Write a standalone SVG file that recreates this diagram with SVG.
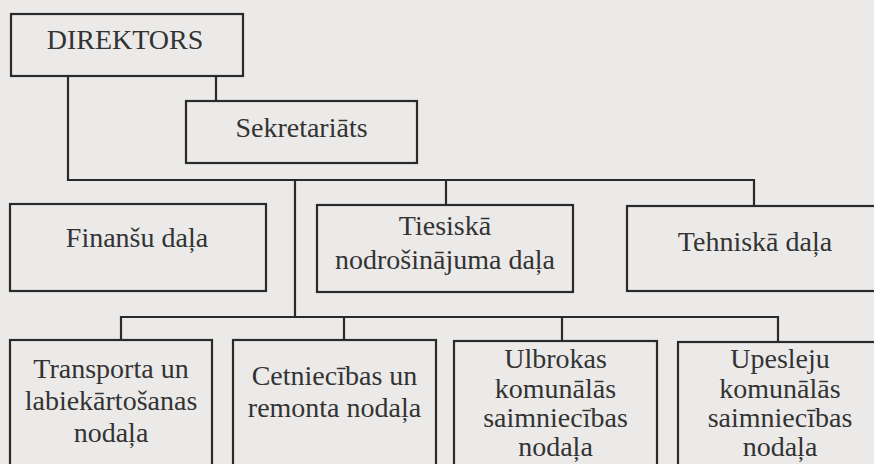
<svg xmlns="http://www.w3.org/2000/svg" width="874" height="464" viewBox="0 0 874 464">
<style>
.box{fill:none;stroke:#2a2a2a;stroke-width:2.2}
.t{font-size:28px;fill:#333;text-anchor:middle}
.c{fill:none;stroke:#2a2a2a;stroke-width:2.2}
</style>
<rect width="874" height="464" fill="#ebeae8"/>
<g id="connectors">
<path class="c" d="M216,76 V101"/>
<path class="c" d="M68,76 V180 H754 V206"/>
<path class="c" d="M446,180 V205"/>
<path class="c" d="M295,180 V317"/>
<path class="c" d="M121,340 V317 H778 V342"/>
<path class="c" d="M344,317 V340"/>
<path class="c" d="M562,317 V341"/>
</g>
<g font-family="'Liberation Serif', 'Times New Roman', Times, 'DejaVu Serif', serif">
<g id="direktors">
<rect class="box" x="11" y="14" width="232" height="62"/>
<text class="t" x="125" y="49">DIREKTORS</text>
</g>
<g id="sekretariats">
<rect class="box" x="186" y="101" width="231" height="62"/>
<text class="t" x="301.5" y="137">Sekretariāts</text>
</g>
<g id="finansu">
<rect class="box" x="10" y="204" width="256" height="87"/>
<text class="t" x="137" y="247">Finanšu daļa</text>
</g>
<g id="tiesiska">
<rect class="box" x="317" y="205" width="256" height="87"/>
<text class="t" x="445" y="235">Tiesiskā</text>
<text class="t" x="445" y="269">nodrošinājuma daļa</text>
</g>
<g id="tehniska">
<rect class="box" x="627" y="206" width="256" height="85"/>
<text class="t" x="755" y="251">Tehniskā daļa</text>
</g>
<g id="transporta">
<rect class="box" x="10" y="340" width="202" height="140"/>
<text class="t" x="111" y="378">Transporta un</text>
<text class="t" x="111" y="410">labiekārtošanas</text>
<text class="t" x="111" y="442">nodaļa</text>
</g>
<g id="cetniecibas">
<rect class="box" x="233" y="340" width="203" height="140"/>
<text class="t" x="334.5" y="385">Cetniecības un</text>
<text class="t" x="334.5" y="417">remonta nodaļa</text>
</g>
<g id="ulbrokas">
<rect class="box" x="454" y="341" width="203" height="140"/>
<text class="t" x="555.5" y="368">Ulbrokas</text>
<text class="t" x="555.5" y="398">komunālās</text>
<text class="t" x="555.5" y="427">saimniecības</text>
<text class="t" x="555.5" y="456">nodaļa</text>
</g>
<g id="upesleju">
<rect class="box" x="678" y="342" width="204" height="140"/>
<text class="t" x="780" y="368">Upesleju</text>
<text class="t" x="780" y="398">komunālās</text>
<text class="t" x="780" y="427">saimniecības</text>
<text class="t" x="780" y="456">nodaļa</text>
</g>
</g>
</svg>
